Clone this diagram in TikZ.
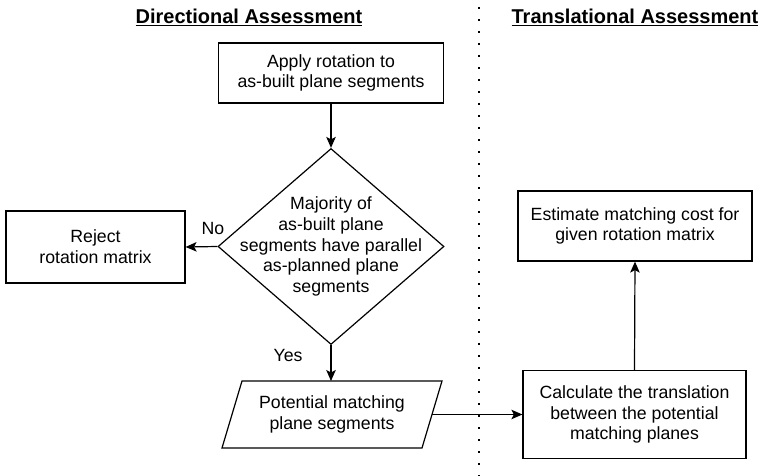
\documentclass[tikz,border=0pt]{standalone}
\usepackage{fontspec}
\setmainfont{Liberation Sans}
\usetikzlibrary{shapes.geometric,arrows.meta}
\begin{document}
\begin{tikzpicture}[x=1pt,y=-1pt,
  every node/.style={font=\fontsize{17.7}{20.8}\selectfont, align=center, inner sep=0pt},
  box/.style={draw, line width=1.2pt, rectangle},
  shp/.style={draw, line width=1.2pt, line join=miter},
  hdr/.style={font=\fontsize{20}{24}\selectfont\bfseries},
  conn/.style={line width=1.2pt, -{Stealth[length=11pt,width=9.5pt,inset=2.5pt]}},
  sep/.style={line width=2.4pt, dash pattern=on 2.4pt off 9.6pt}]
\useasboundingbox (0,0) rectangle (764,476);
% headers
\node[hdr] (h1) at (249,17) {\underline{Directional Assessment}};
\node[hdr] (h2) at (635,17) {\underline{Translational Assessment}};
% separator
\coordinate (s1) at (479,7);
\coordinate (s2) at (479,476);
\draw[sep] (s1) -- (s2);
% nodes
\node[box, minimum width=225pt, minimum height=60pt] (apply) at (331,73) {Apply rotation to\\as-built plane segments};
\node[draw, line width=1.2pt, diamond, minimum width=226pt, minimum height=196pt,
      label={[name=dectext]center:{Majority of\\as-built plane\\segments have parallel\\as-planned plane\\segments}}] (dec) at (331,246.5) {};
\node[box, minimum width=179pt, minimum height=72pt] (reject) at (95.5,247) {Reject\\rotation matrix};
% parallelogram
\coordinate (p1) at (242,381);
\coordinate (p2) at (442,381);
\coordinate (p3) at (422,448);
\coordinate (p4) at (222,448);
\coordinate (paraN) at (331,381);
\coordinate (paraE) at (432,414.5);
\draw[shp] (p1) -- (p2) -- (p3) -- (p4) -- cycle;
\node (para) at (332,414.5) {Potential matching\\plane segments};
\node[box, minimum width=223pt, minimum height=88pt] (calc) at (634.5,414.5) {Calculate the translation\\between the potential\\matching planes};
\node[box, minimum width=234pt, minimum height=70pt] (est) at (635,226) {Estimate matching cost for\\given rotation matrix};
% labels
\node (no) at (213,228) {No};
\node (yes) at (288,355) {Yes};
% connectors
\draw[conn] (apply.south) -- (dec.north);
\draw[conn] (dec.west) -- (reject.east);
\draw[conn] (dec.south) -- (paraN);
\draw[conn] (paraE) -- (calc.west);
\draw[conn] (calc.north) -- (est.south);
\end{tikzpicture}
\end{document}
